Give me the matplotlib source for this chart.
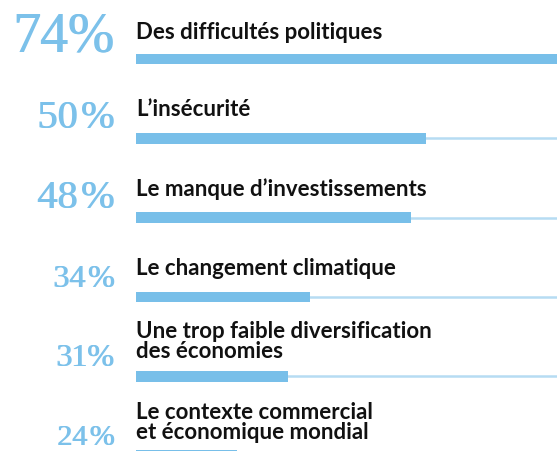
import matplotlib
matplotlib.use("Agg")
import matplotlib.pyplot as plt
import matplotlib.transforms as mtransforms

# ---- data ----
categories = [
    "Des difficultés politiques",
    "L\u2019insécurité",
    "Le manque d\u2019investissements",
    "Le changement climatique",
    "Une trop faible diversification\ndes économies",
    "Le contexte commercial\net économique mondial",
]
values = [74, 50, 48, 34, 31, 24]
value_labels = ["74%", "50\u200a%", "48\u200a%", "34\u200a%", "31%", "24\u200a%"]

# ---- style ----
bar_color = "#78bfe9"
track_color = "#b6dcf3"
pct_color = "#7cc1ea"
pct_sizes = [40, 29, 29, 23, 23, 21.5]
pct_offsets = [6.0, 8.0, 8.0, 8.0, 8.0, 8.0]      # points above bar centre
label_offsets = [15.5, 17, 16.5, 16.5, 14, 12.5]  # points above bar centre

W, H, DPI = 5.57, 4.52, 100
fig = plt.figure(figsize=(W, H), dpi=DPI)
ax_left = 136 / 557
ax = fig.add_axes([ax_left, 0, 1 - ax_left, 1])
ax.set_xlim(10.06, 68.1)
ax.set_ylim(4.943, -0.757)
ax.axis("off")

ypos = list(range(len(values)))
ax.hlines(ypos, 0, 100, colors=track_color, linewidth=1.8, zorder=1)
ax.barh(ypos, values, height=0.135, color=bar_color, zorder=2)

blend = mtransforms.blended_transform_factory(ax.transAxes, ax.transData)
for y, cat, lab, fs, off, loff in zip(ypos, categories, value_labels,
                                     pct_sizes, pct_offsets, label_offsets):
    ax.annotate(cat, xy=(0, y), xycoords=blend, xytext=(0, loff),
                textcoords="offset points", ha="left", va="baseline",
                fontsize=16, fontweight="bold", family="Lato", color="#111111",
                linespacing=0.95, annotation_clip=False)
    # draw the serif percentage twice with a tiny shift to give it a medium weight
    for dx in (0.0, fs * 0.018):
        ax.annotate(lab, xy=(-0.05, y), xycoords=blend, xytext=(dx - fs * 0.018, off),
                    textcoords="offset points", ha="right", va="baseline",
                    fontsize=fs, family="Liberation Serif", color=pct_color,
                    annotation_clip=False)

fig.savefig("out.png", dpi=DPI)
